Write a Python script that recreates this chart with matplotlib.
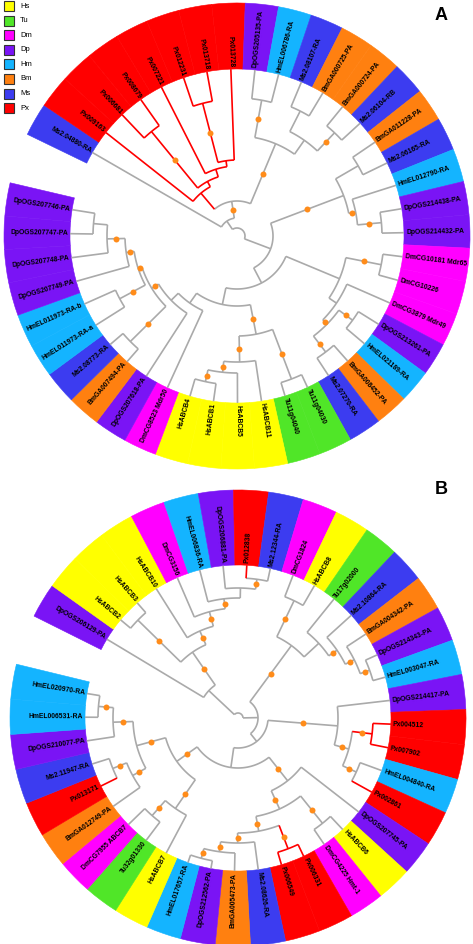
import re
import matplotlib
matplotlib.use('Agg')
import matplotlib.pyplot as plt
import numpy as np
from matplotlib.patches import Wedge, Rectangle
from matplotlib.collections import LineCollection

# ---------------- DATA ---------------- #
# legend groups and colours
groups = ['Hs', 'Tu', 'Dm', 'Dp', 'Hm', 'Bm', 'Ms', 'Px']
group_colors = ['#FFFF00', '#50E628', '#FF00FF', '#7A14F5',
                '#14B4FF', '#FF8010', '#3C3CF0', '#FF0000']

# trees: leaves in clockwise order, ")*" = supported node (orange dot),
# number after ")" = radius of the node in pixels
tree_a = """
((Ms2.04880-RA,
  ((Px009163,
    ((Px006681,Px008679)*135,
     (Px007221,((Px012231,Px013718)*137,Px013728)76)70)62)56,
   ((DpOGS205135-PA,HmEL006786-RA)*138,
    ((Ms2.08107-RA,BmGA000725-PA)140,
     (BmGA000724-PA,Ms2.06104-RB)*142)117)*100)*35)18,
 (((BmGA011228-PA,Ms2.06165-RA)140,
   (HmEL012790-RA,(DpOGS214438-PA,DpOGS214432-PA)*145)*121)*114,
  (((DmCG10181 Mdr65,DmCG10226)*147,
    (DmCG3879 Mdr49,
     ((DpOGS213261-PA,HmEL021189-RA)*143,
      (BmGA008452-PA,Ms2.07270-RA)*146)*126)120)111,
   (((Tu11g04030,Tu11g04040)*153,
     (HsABCB11,(HsABCB5,(HsABCB1,HsABCB4)*149)*137)*126)*100,
    (DmCG8523 Mdr50,
     (DpOGS207618-PA,
      ((BmGA007494-PA,Ms2.08773-RA)*150,
       ((HmEL011973-RA-a,HmEL011973-RA-b)*133,
        (DpOGS207749-PA,
         (DpOGS207748-PA,(DpOGS207747-PA,DpOGS207746-PA)144)*130)*112)*104)*100)92)82)70)53)36)8
"""

tree_b = """
((DpOGS206129-PA,
  ((HsABCB2,HsABCB3)*140,
   (HsABCB10,
    (DmCG3156,
     (HmEL006836-RA,
      (DpOGS206881-PA,(Px012838,Ms2.12344-RA)*140)130)*120)*110)*95)*80)40,
 (((DmCG1824,HsABCB8)*130,
   (Tu17g02000,
    (Ms2.10864-RA,(BmGA004342-PA,(DpOGS214343-PA,HmEL003047-RA)*140)*130)*120)110)*90,
  ((DpOGS214417-PA,((Px004512,Px007902)*135,(HmEL004840-RA,Px002861)*130)*115)*100,
   ((DpOGS207745-PA,
     ((HsABCB6,DmCG4225 Hmt-1)*135,
      ((Px006331,Px006549)*140,
       (Ms2.08626-RA,(BmGA005473-PA,(DpOGS212562-PA,HmEL017657-RA)*145)*135)*125)*115)*100)*80,
    ((HsABCB7,(Tu32g01330,DmCG7955 ABCB7)*130)*110,
     ((BmGA012749-PA,(Px013171,Ms2.11947-RA)*135)*120,
      (DpOGS210077-PA,(HmEL006531-RA,HmEL020970-RA)*140)*125)*105)*75)50)30)20)5
"""

# ---------------- HELPERS ---------------- #
color_of = dict(zip(groups, group_colors))
GREY = '#AAAAAA'
RED = '#FF0000'
DOT = '#FF8C1A'


def parse(s):
    tokens = [t.strip() for t in re.findall(r'\(|\)|,|\*|[^(),*]+', s.replace('\n', ''))]
    tokens = [t for t in tokens if t]
    pos = 0

    def node():
        nonlocal pos
        if tokens[pos] == '(':
            pos += 1
            kids = [node()]
            while tokens[pos] == ',':
                pos += 1
                kids.append(node())
            pos += 1  # ')'
            dot = False
            if pos < len(tokens) and tokens[pos] == '*':
                dot = True
                pos += 1
            r = float(tokens[pos])
            pos += 1
            return {'kids': kids, 'r': r, 'dot': dot}
        name = tokens[pos]
        pos += 1
        return {'name': name, 'dot': False}

    return node()


def pt(cx, cy, r, a):
    t = np.radians(a)
    return cx + r * np.cos(t), cy + r * np.sin(t)


def draw_tree(ax, newick, cx, cy, r_in, r_out, theta0, dtheta):
    tree = parse(newick)
    leaves = []

    def layout(n):
        if 'name' in n:
            n['a'] = theta0 - len(leaves) * dtheta
            n['r'] = r_in
            n['px'] = n['name'].startswith('Px')
            leaves.append(n)
        else:
            for k in n['kids']:
                layout(k)
            n['a'] = (n['kids'][0]['a'] + n['kids'][-1]['a']) / 2
            n['px'] = all(k['px'] for k in n['kids'])

    layout(tree)

    segs, cols, dots = [], [], []

    def walk(n):
        if 'kids' not in n:
            return
        a1, a2 = n['kids'][-1]['a'], n['kids'][0]['a']
        arc = np.linspace(a1, a2, 60)
        segs.append(np.column_stack(pt(cx, cy, n['r'], arc)))
        cols.append(RED if n['px'] else GREY)
        for k in n['kids']:
            segs.append(np.array([pt(cx, cy, n['r'], k['a']), pt(cx, cy, k['r'], k['a'])]))
            cols.append(RED if k['px'] else GREY)
            if k['dot']:
                dots.append(pt(cx, cy, (n['r'] + k['r']) / 2, k['a']))
            walk(k)

    walk(tree)

    # coloured ring
    for lf in leaves:
        c = color_of[lf['name'][:2]]
        ax.add_patch(Wedge((cx, cy), r_out, lf['a'] - dtheta / 2, lf['a'] + dtheta / 2,
                           width=r_out - r_in, facecolor=c, edgecolor=c, lw=0.4))
        a = (lf['a'] + 180) % 360 - 180
        x, y = pt(cx, cy, r_in + 2, a)
        if -90 <= a <= 90:
            ax.text(x, y, lf['name'], rotation=a, rotation_mode='anchor',
                    ha='left', va='center', fontsize=4.9, fontweight='bold',
                    family='Liberation Sans')
        else:
            ax.text(x, y, lf['name'], rotation=a - 180, rotation_mode='anchor',
                    ha='right', va='center', fontsize=4.9, fontweight='bold',
                    family='Liberation Sans')

    ax.add_collection(LineCollection(segs, colors=cols, linewidths=1.2, capstyle='butt'))
    if dots:
        d = np.array(dots)
        ax.plot(d[:, 0], d[:, 1], 'o', color=DOT, ms=4.3, mec='none', zorder=5)


# ---------------- PLOT ---------------- #
W, H = 473, 944
fig = plt.figure(figsize=(W / 100, H / 100), dpi=100)
ax = fig.add_axes([0, 0, 1, 1])
ax.set_xlim(0, W)
ax.set_ylim(0, H)
ax.axis('off')

# tree A (top), tree B (bottom)
draw_tree(ax, tree_a, 237, H - 236, 167, 233, 150.0, 8.27)
draw_tree(ax, tree_b, 238, H - 718, 153, 228, 149.0, 8.9)

# legend
for i, (g, c) in enumerate(zip(groups, group_colors)):
    y = H - 6 - i * 14.6
    ax.add_patch(Rectangle((4, y - 5), 10, 10, facecolor=c, edgecolor='#333333', lw=0.8))
    ax.text(20, y, g, fontsize=5.5, va='center', ha='left', family='Liberation Sans')

ax.text(441, H - 15, 'A', fontsize=13, fontweight='bold', ha='center', va='center',
        family='Liberation Sans')
ax.text(441, H - 490, 'B', fontsize=13, fontweight='bold', ha='center', va='center',
        family='Liberation Sans')

fig.savefig('out.png', dpi=100, facecolor='white')
